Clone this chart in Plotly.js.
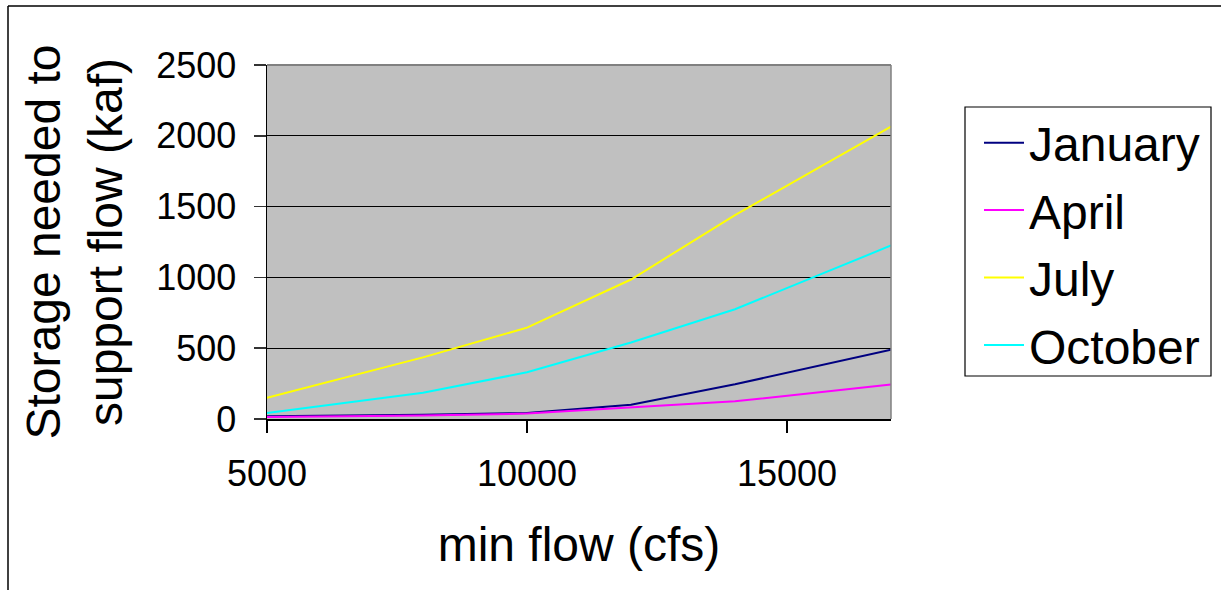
<!DOCTYPE html>
<html>
<head>
<meta charset="utf-8">
<script src="https://cdn.plot.ly/plotly-3.0.1.min.js"></script>
<style>html,body{margin:0;padding:0;background:#fff;}#chart{width:1221px;height:590px;}</style>
</head>
<body>
<div id="chart"></div>
<script>
const minFlow = [5000, 8000, 10000, 12000, 14000, 17000];
const january = [20, 30, 42, 100, 245, 490];
const april = [15, 25, 38, 80, 125, 243];
const july = [150, 435, 645, 985, 1440, 2065];
const october = [42, 185, 330, 540, 775, 1225];
const seriesNames = ['January', 'April', 'July', 'October'];
const yTicks = [0, 500, 1000, 1500, 2000, 2500];
const xTicks = [5000, 10000, 15000];

const colors = ['#000080', '#FF00FF', '#FFFF00', '#00FFFF'];
const data = [january, april, july, october].map((v, i) => ({
  x: minFlow, y: v, type: 'scatter', mode: 'lines', name: seriesNames[i],
  legendgroup: 'g' + i,
  line: {color: colors[i], width: 2}
}));

const font = 'Arial, "Liberation Sans", sans-serif';
const W = 1221, H = 590, L = 267, R = 330, T = 65, B = 171;
const pw = W - L - R, ph = H - T - B;
const px = x => (x - L) / pw;
const py = y => (H - B - y) / ph;

const layout = {
  width: W, height: H,
  margin: {l: L, r: R, t: T, b: B, pad: 0},
  paper_bgcolor: '#ffffff',
  plot_bgcolor: '#C0C0C0',
  font: {family: font, color: '#000'},
  showlegend: true,
  legend: {
    x: px(979), y: py(105), xanchor: 'left', yanchor: 'top',
    borderwidth: 0, bgcolor: 'rgba(0,0,0,0)',
    font: {family: font, size: 48, color: '#000'},
    tracegroupgap: 2, itemwidth: 40
  },
  xaxis: {
    range: [5000, 17000], tickvals: xTicks, ticktext: xTicks.map(String),
    showgrid: false, zeroline: false,
    showline: true, linecolor: '#000', linewidth: 1.5,
    ticks: 'outside', ticklen: 12, tickcolor: '#000', tickwidth: 1.5,
    ticklabelstandoff: 10,
    tickfont: {family: font, size: 36, color: '#000'},
    title: {text: 'min flow (cfs)', font: {family: font, size: 48, color: '#000'}, standoff: 34}
  },
  yaxis: {
    range: [0, 2500], tickvals: yTicks, ticktext: yTicks.map(String),
    showgrid: true, gridcolor: '#000', gridwidth: 1.2, zeroline: false,
    showline: true, linecolor: '#000', linewidth: 1.5,
    ticks: 'outside', ticklen: 12, tickcolor: '#333', tickwidth: 1.5,
    ticklabelstandoff: 10,
    tickfont: {family: font, size: 36, color: '#000'},
    title: {text: 'Storage needed to<br>support flow (kaf)', font: {family: font, size: 48, color: '#000'}, standoff: 18}
  },
  shapes: [
    {type: 'line', xref: 'paper', yref: 'paper', x0: 0, x1: 1, y0: 1, y1: 1, line: {color: '#808080', width: 2}, layer: 'above'},
    {type: 'line', xref: 'paper', yref: 'paper', x0: 1, x1: 1, y0: 0, y1: 1, line: {color: '#808080', width: 1.5}, layer: 'above'},
    {type: 'line', xref: 'paper', yref: 'paper', x0: px(8), x1: px(1221), y0: py(6), y1: py(6), line: {color: '#000', width: 1.5}},
    {type: 'line', xref: 'paper', yref: 'paper', x0: px(8), x1: px(8), y0: py(6), y1: py(590), line: {color: '#000', width: 1.5}},
    {type: 'rect', xref: 'paper', yref: 'paper', x0: px(965), x1: px(1211), y0: py(107), y1: py(376), line: {color: '#000', width: 1.2}, fillcolor: 'rgba(0,0,0,0)'}
  ]
};

Plotly.newPlot('chart', data, layout, {displayModeBar: false, staticPlot: true});
</script>
</body>
</html>
